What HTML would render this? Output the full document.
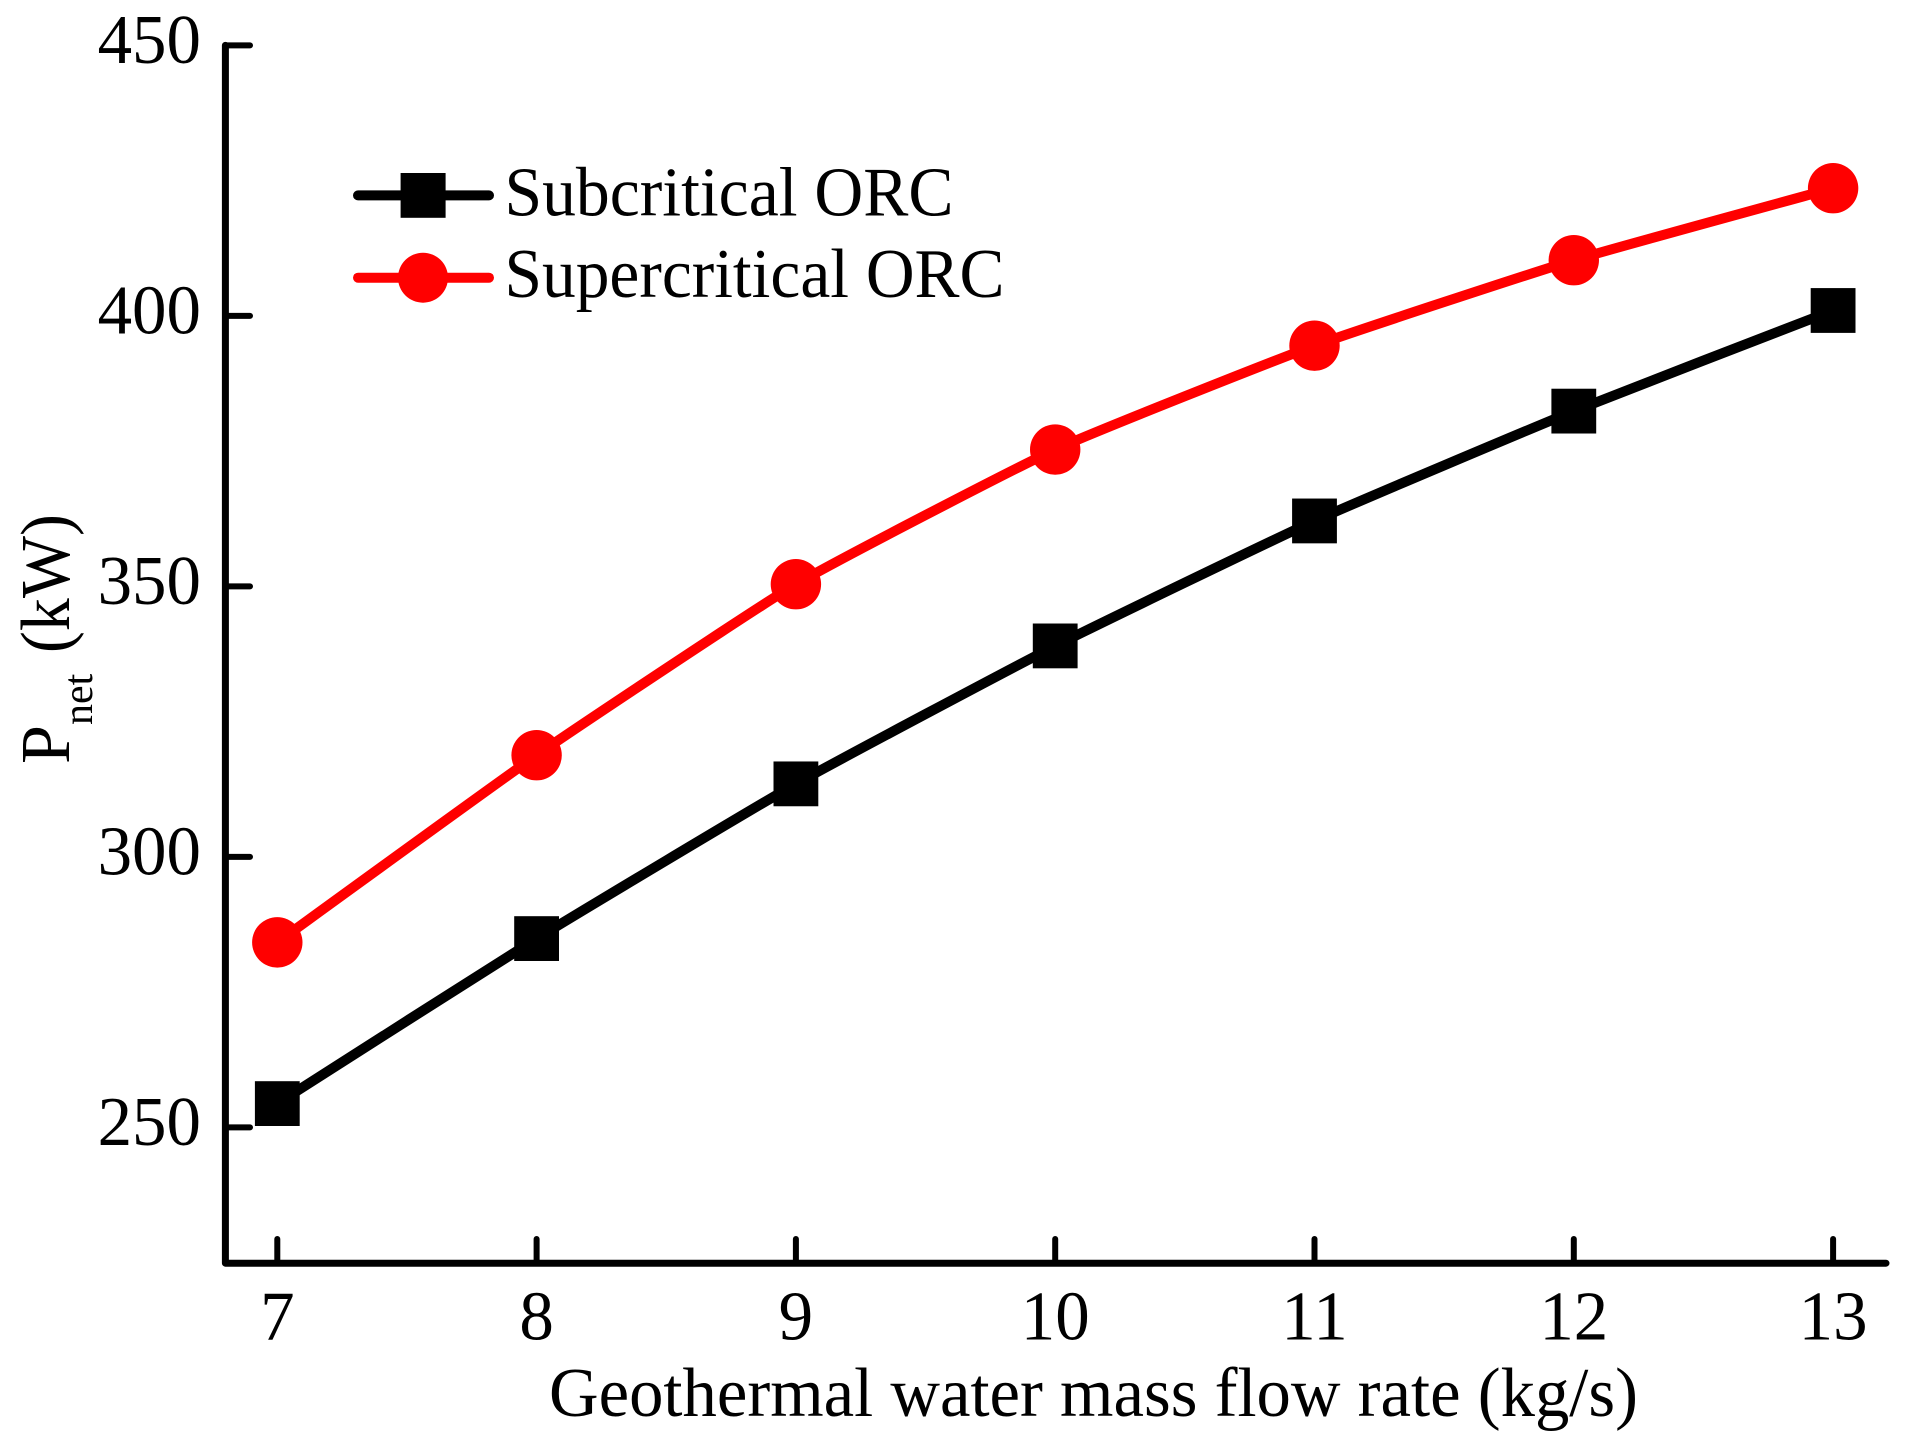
<!DOCTYPE html>
<html>
<head>
<meta charset="utf-8">
<title>Net power vs geothermal water mass flow rate</title>
<style>
html,body{margin:0;padding:0;background:#fff;}
svg{display:block;}
text{font-family:"Liberation Serif",serif;fill:#000;}
</style>
</head>
<body>
<svg id="chart" xmlns="http://www.w3.org/2000/svg" width="1913" height="1451" viewBox="0 0 1913 1451">
  <rect x="0" y="0" width="1913" height="1451" fill="#fff"/>
  <g id="axes"></g>
  <g id="series"></g>
  <text transform="translate(69,764) rotate(-90)" font-size="70"><tspan x="0" y="0">P</tspan><tspan x="39" y="23" font-size="42">net</tspan><tspan x="111" y="0" textLength="139" lengthAdjust="spacingAndGlyphs">(kW)</tspan></text>
  <text x="549" y="1416" font-size="70" textLength="1089" lengthAdjust="spacingAndGlyphs">Geothermal water mass flow rate (kg/s)</text>
  <g>
    <g>
      <line x1="358" y1="195.4" x2="489" y2="195.4" stroke="#000" stroke-width="10" stroke-linecap="round"/>
      <rect x="400.6" y="173" width="45" height="44.8" fill="#000"/>
      <text x="504.5" y="215.5" font-size="70" textLength="449" lengthAdjust="spacingAndGlyphs">Subcritical ORC</text>
    </g>
    <g>
      <line x1="358" y1="277.7" x2="489" y2="277.7" stroke="#f00" stroke-width="10" stroke-linecap="round"/>
      <circle cx="423" cy="277.7" r="25" fill="#f00"/>
      <text x="504.5" y="297" font-size="70" textLength="500" lengthAdjust="spacingAndGlyphs">Supercritical ORC</text>
    </g>
  </g>
</svg>
<script>
const categories = [7, 8, 9, 10, 11, 12, 13];
const subcritical = [254.4, 284.9, 313.5, 339.0, 362.1, 382.4, 401.0];
const supercritical = [284.2, 318.8, 350.4, 375.3, 394.5, 410.3, 423.6];
const yTickLabels = [250, 300, 350, 400, 450];
const xTickLabels = [7, 8, 9, 10, 11, 12, 13];
const yMin = 224.9;

const NS = 'http://www.w3.org/2000/svg';
function xScale(v) { return 277.3 + (v - 7) * 259.3; }
function yScale(v) { return 1127.4 - (v - 250) * 5.41; }
function make(tag, attrs, parent) {
  const el = document.createElementNS(NS, tag);
  for (const k in attrs) el.setAttribute(k, attrs[k]);
  parent.appendChild(el);
  return el;
}

const axes = document.getElementById('axes');
const seriesGroup = document.getElementById('series');
const baseY = yScale(yMin);
const topY = yScale(450);

const axisPath = make('path', { d: 'M225.4 ' + topY + ' V' + baseY + ' H1886', fill: 'none', stroke: '#000', 'stroke-width': 7, 'stroke-linejoin': 'round', 'stroke-linecap': 'round' }, axes);



yTickLabels.forEach(function (t) {
  const y = yScale(t);
  const tick = make('line', { x1: 225.4, y1: y, x2: 250, y2: y, stroke: '#000', 'stroke-width': 6, 'stroke-linecap': 'round' }, axes);
  
  
  const label = make('text', { transform: 'translate(201,' + (y + 17.6) + ') scale(0.985,1)', 'text-anchor': 'end', 'font-size': 70 }, axes);
  
  
  label.textContent = t;
});

xTickLabels.forEach(function (t) {
  const x = xScale(t);
  const tick = make('line', { x1: x, y1: baseY, x2: x, y2: 1239, stroke: '#000', 'stroke-width': 6, 'stroke-linecap': 'round' }, axes);
  
  
  const label = make('text', { transform: 'translate(' + x + ',1339.3) scale(0.985,1)', 'text-anchor': 'middle', 'font-size': 70 }, axes);
  
  
  label.textContent = t;
});

function smoothPath(xs, ys) {
  const k = 14;
  let d = 'M' + xScale(xs[0]) + ' ' + yScale(ys[0]);
  for (let i = 0; i < xs.length - 1; i++) {
    const i0 = Math.max(i - 1, 0);
    const i3 = Math.min(i + 2, xs.length - 1);
    const x0 = xScale(xs[i0]), y0 = yScale(ys[i0]);
    const x1 = xScale(xs[i]), y1 = yScale(ys[i]);
    const x2 = xScale(xs[i + 1]), y2 = yScale(ys[i + 1]);
    const x3 = xScale(xs[i3]), y3 = yScale(ys[i3]);
    d += ' C' + (x1 + (x2 - x0) / k) + ' ' + (y1 + (y2 - y0) / k) + ' ' +
         (x2 - (x3 - x1) / k) + ' ' + (y2 - (y3 - y1) / k) + ' ' + x2 + ' ' + y2;
  }
  return d;
}

const blackLine = make('path', { d: smoothPath(categories, subcritical), fill: 'none', stroke: '#000', 'stroke-width': 10 }, seriesGroup);



const redLine = make('path', { d: smoothPath(categories, supercritical), fill: 'none', stroke: '#f00', 'stroke-width': 10 }, seriesGroup);



categories.forEach(function (c, i) {
  const sq = make('rect', { x: xScale(c) - 22.4, y: yScale(subcritical[i]) - 22.4, width: 44.8, height: 44.8, fill: '#000' }, seriesGroup);
  
  
  const dot = make('circle', { cx: xScale(c), cy: yScale(supercritical[i]), r: 25.2, fill: '#f00' }, seriesGroup);
  
  
});
</script>
</body>
</html>
